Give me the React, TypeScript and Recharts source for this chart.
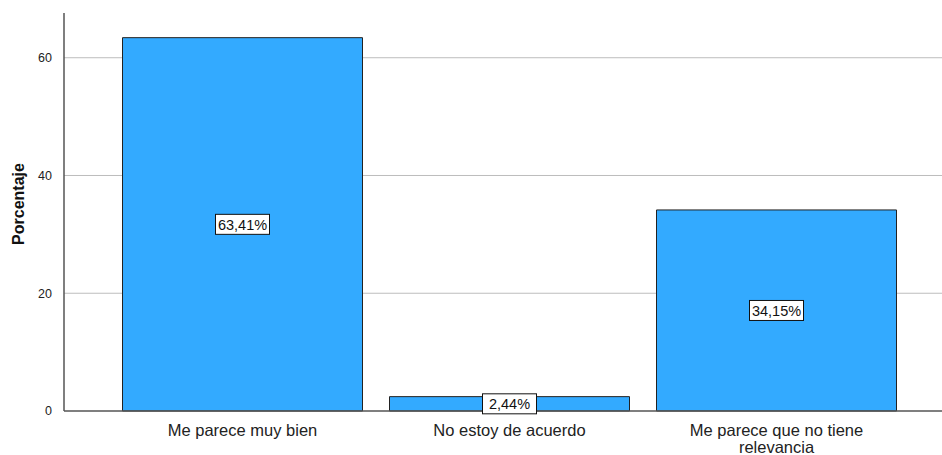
import { BarChart, Bar, XAxis, YAxis, CartesianGrid, LabelList } from 'recharts';

const categories = ['Me parece muy bien', 'No estoy de acuerdo', 'Me parece que no tiene relevancia'];
const percentages = [63.41, 2.44, 34.15];
const yTicks = [0, 20, 40, 60];
const gridValues = [20, 40, 60];

const chartData = categories.map((name, i) => ({ name, value: percentages[i] }));

const FONT = 'Liberation Sans, Arial, sans-serif';

// split long tick labels into lines of at most maxChars
const wrap = (text: string, maxChars: number): string[] => {
    const words = text.split(' ');
    const lines: string[] = [];
    let current = '';
    words.forEach((w) => {
        const next = current ? `${current} ${w}` : w;
        if (next.length > maxChars && current) {
            lines.push(current);
            current = w;
        } else {
            current = next;
        }
    });
    if (current) lines.push(current);
    return lines;
};

const CategoryTick = (props: any) => {
    const { x, y, payload } = props;
    const lines = wrap(payload.value, 24);
    return (
        <text x={x} y={y} textAnchor="middle" fill="#222" fontSize={16.5} fontFamily={FONT}>
            {lines.map((line, i) => (
                <tspan key={i} x={x} dy={i === 0 ? 17 : 16.5}>{line}</tspan>
            ))}
        </text>
    );
};

const BoxLabel = (props: any) => {
    const { x, y, width, height, value } = props;
    const text = `${Number(value).toFixed(2).replace('.', ',')}%`;
    const cx = x + width / 2;
    const cy = y + height / 2;
    const w = 54;
    const h = 20;
    return (
        <g>
            <rect x={cx - w / 2} y={cy - h / 2} width={w} height={h} fill="#fff" stroke="#111" strokeWidth={1} />
            <text x={cx} y={cy + 5.5} textAnchor="middle" fill="#111" fontSize={14.5} fontFamily={FONT}>
                {text}
            </text>
        </g>
    );
};

const YTitle = () => (
    <text
        x={18}
        y={204}
        transform="rotate(-90 18 204)"
        textAnchor="middle"
        dominantBaseline="central"
        fill="#111"
        fontSize={16}
        fontWeight="bold"
        fontFamily={FONT}
    >
        Porcentaje
    </text>
);

export default function App() {
    return (
        <div style={{ position: 'absolute', left: 0, top: 0, background: '#fff' }}>
            <BarChart
                width={942}
                height={455}
                data={chartData}
                margin={{ top: 13, right: 0, left: 0, bottom: 0 }}
                barCategoryGap={13.5}
            >
                <CartesianGrid vertical={false} horizontalValues={gridValues} stroke="#bdbdbd" strokeWidth={1} />
                <XAxis
                    dataKey="name"
                    padding={{ left: 45, right: 32 }}
                    tickLine={false}
                    axisLine={{ stroke: '#555', strokeWidth: 1.5 }}
                    tick={<CategoryTick />}
                    interval={0}
                    height={44}
                />
                <YAxis
                    width={64}
                    domain={[0, 67.6]}
                    ticks={yTicks}
                    tickLine={false}
                    tickMargin={6}
                    axisLine={{ stroke: '#555', strokeWidth: 1.5 }}
                    tick={{ fill: '#222', fontSize: 12.5, fontFamily: FONT }}
                    label={{ content: () => <YTitle /> }}
                />
                <Bar dataKey="value" fill="#33aaff" stroke="#222" strokeWidth={1} isAnimationActive={false}>
                    <LabelList dataKey="value" content={<BoxLabel />} />
                </Bar>
            </BarChart>
        </div>
    );
}
